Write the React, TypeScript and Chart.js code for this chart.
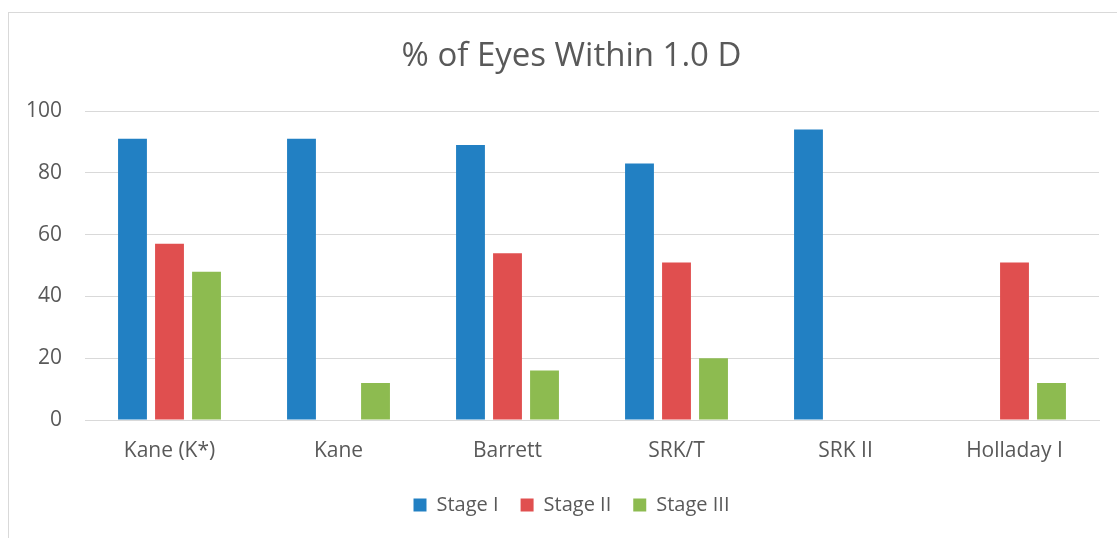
import React, { useEffect, useRef } from "react";
import { Chart, registerables } from "chart.js";

Chart.register(...registerables);

const categories = ["Kane (K*)", "Kane", "Barrett", "SRK/T", "SRK II", "Holladay I"];
const stage1 = [91, 91, 89, 83, 94, null];
const stage2 = [57, null, 54, 51, null, 51];
const stage3 = [48, 12, 16, 20, null, 12];
const yTicks = [0, 20, 40, 60, 80, 100];

const FONT = "'Open Sans', Lato, sans-serif";
const TEXT = "#595959";

const frame = {
  id: "frame",
  beforeDraw(chart: any) {
    const ctx = chart.ctx;
    ctx.save();
    ctx.fillStyle = "#ffffff";
    ctx.fillRect(0, 0, chart.width, chart.height);
    ctx.strokeStyle = "#d9d9d9";
    ctx.lineWidth = 1;
    ctx.strokeRect(8.5, 12.5, chart.width + 20, chart.height + 20);
    ctx.restore();
  },
  afterLayout(chart: any) {
    // the original frame extends past the right edge, so title and legend sit right of centre
    const shift = 22;
    if (chart.legend) { chart.legend.left += shift; chart.legend.right += shift; }
    if (chart.titleBlock) { chart.titleBlock.left += shift; chart.titleBlock.right += shift; }
  },
};

export default function App() {
  const ref = useRef<HTMLCanvasElement>(null);
  useEffect(() => {
    document.body.style.margin = "0";
    const chart = new Chart(ref.current!, {
      type: "bar",
      data: {
        labels: categories,
        datasets: [
          { label: "Stage I", data: stage1, backgroundColor: "#2280C3" },
          { label: "Stage II", data: stage2, backgroundColor: "#E04F4F" },
          { label: "Stage III", data: stage3, backgroundColor: "#8DBB50" },
        ],
      },
      options: {
        animation: false,
        responsive: false,
        layout: { padding: { left: 0, right: 18, top: 0, bottom: 13 } },
        datasets: { bar: { categoryPercentage: 0.657, barPercentage: 0.78 } },
        plugins: {
          title: {
            display: true,
            text: "% of Eyes Within 1.0 D",
            color: TEXT,
            font: { family: FONT, size: 33, weight: "normal" },
            padding: { top: 37, bottom: 34.4 },
          },
          legend: {
            position: "bottom",
            labels: {
              color: TEXT,
              font: { family: FONT, size: 20 },
              boxWidth: 13,
              boxHeight: 13,
              padding: 22,
            },
          },
          tooltip: { enabled: false },
        },
        scales: {
          x: {
            grid: { display: false, drawTicks: false },
            border: { color: "#d9d9d9" },
            ticks: { color: TEXT, font: { family: FONT, size: 21 }, padding: 18 },
            afterFit: (s: any) => { s.height = 53; },
          },
          y: {
            min: 0,
            max: 100,
            afterBuildTicks: (s: any) => { s.ticks = yTicks.map((v) => ({ value: v })); },
            grid: { color: "#d9d9d9", drawTicks: false },
            border: { display: false },
            ticks: { color: TEXT, font: { family: FONT, size: 21 }, padding: 23 },
            afterFit: (s: any) => { s.width = 85; },
          },
        },
      },
      plugins: [frame],
    });
    return () => chart.destroy();
  }, []);
  return (
    <div style={{ position: "fixed", left: 0, top: 0, width: 1117, height: 538 }}>
      <canvas ref={ref} width={1117} height={538} style={{ display: "block" }} />
    </div>
  );
}
